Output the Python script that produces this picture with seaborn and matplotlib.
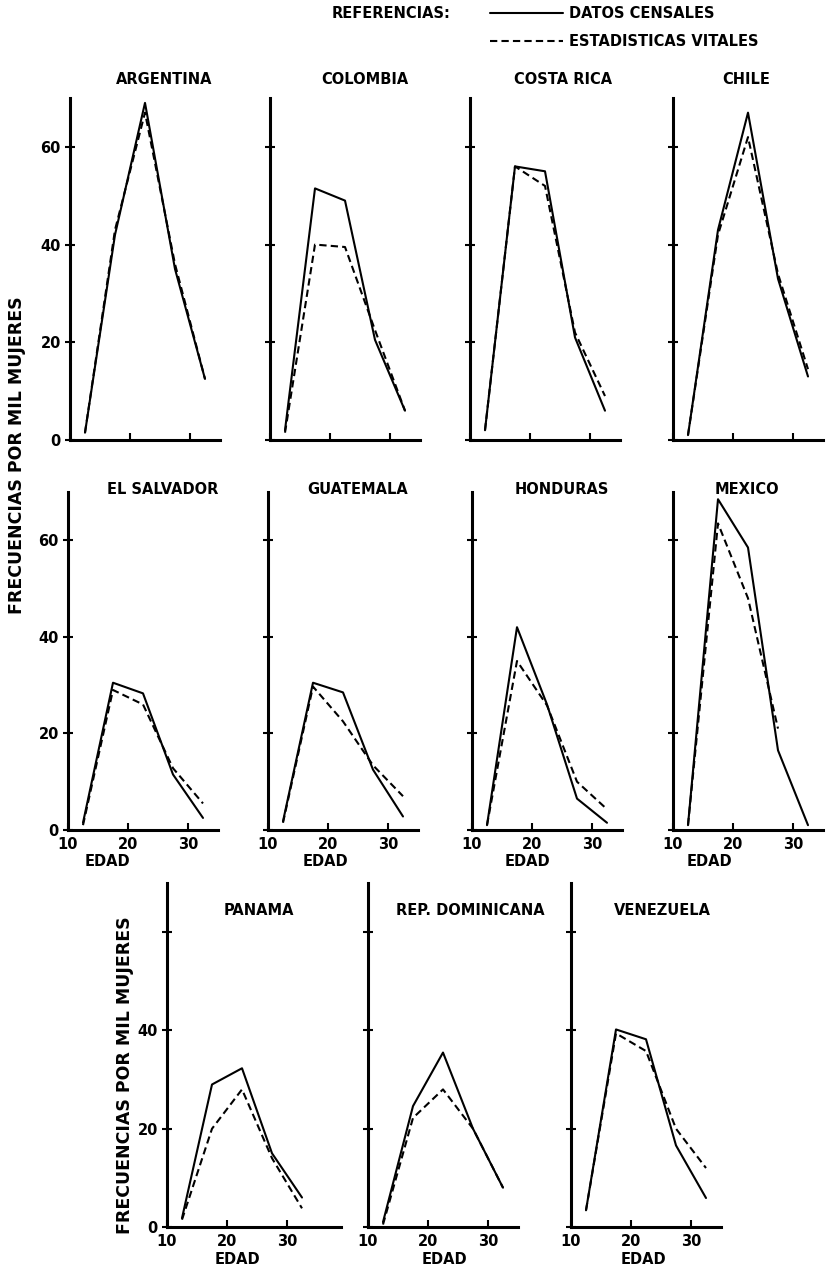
import numpy as np
import pandas as pd
import matplotlib
matplotlib.use("Agg")
import matplotlib.pyplot as plt
from matplotlib.lines import Line2D
import seaborn as sns

# Tasas de fecundidad por edad (por mil mujeres)
paises = ["ARGENTINA", "COLOMBIA", "COSTA RICA", "CHILE",
          "EL SALVADOR", "GUATEMALA", "HONDURAS", "MEXICO",
          "PANAMA", "REP. DOMINICANA", "VENEZUELA"]
edades = [12.5, 17.5, 22.5, 27.5, 32.5]

datos_censales = [
    [1.5, 42, 69, 35, 12.5],
    [2, 51.5, 49, 20.5, 6],
    [2, 56, 55, 21, 6],
    [1, 43, 67, 33, 13],
    [1.5, 30.5, 28.3, 11.5, 2.5],
    [1.8, 30.5, 28.5, 12.5, 2.8],
    [1, 42, 26, 6.5, 1.5],
    [1, 68.5, 58.5, 16.5, 1],
    [1.8, 29, 32.3, 15, 6],
    [1, 24.6, 35.5, 20, 8],
    [3.4, 40.2, 38.2, 16.6, 5.9],
]
estadisticas_vitales = [
    [1.5, 43, 67, 36, 12.5],
    [1.5, 40, 39.5, 22.5, 6],
    [2, 56, 52, 22, 9],
    [1, 42, 62, 34, 14.5],
    [1, 29, 26, 12.8, 5.5],
    [1.5, 29.7, 22.5, 13.4, 7],
    [1, 35, 25.8, 10, 4.3],
    [1, 63.5, 48, 21, np.nan],
    [1.5, 20, 28, 14, 3.8],
    [0.5, 22.2, 28, 20, 8],
    [3.4, 39.4, 35.8, 20, 12],
]

fuentes = ["DATOS CENSALES", "ESTADISTICAS VITALES"]
y_ticks = [0, 20, 40, 60]
x_ticks = [10, 20, 30]

# long form table for seaborn
rows = []
for pais, cen, vit in zip(paises, datos_censales, estadisticas_vitales):
    for edad, c, v in zip(edades, cen, vit):
        rows.append({"pais": pais, "edad": edad, "fuente": fuentes[0], "tasa": c})
        rows.append({"pais": pais, "edad": edad, "fuente": fuentes[1], "tasa": v})
df = pd.DataFrame(rows).dropna()

sns.set_style("ticks")
plt.rcParams["font.family"] = ["DejaVu Sans"]
plt.rcParams["font.weight"] = "bold"
plt.rcParams["font.size"] = 10.5
for key in ["text.color", "axes.labelcolor", "xtick.color", "ytick.color"]:
    plt.rcParams[key] = "black"

W, H = 830, 1271
fig = plt.figure(figsize=(W / 100, H / 100), dpi=100)

# row: (top px, bottom px, title y in axes fraction)
row_box = {0: (98, 440, 1.053), 1: (492, 830, 1.006), 2: (883, 1227, 0.92)}

# pais: (row, left px, xmax, title x frac, EDAD position in years)
layout = {
    "ARGENTINA": (0, 70, 35, 0.63, None),
    "COLOMBIA": (0, 270, 35, 0.63, None),
    "COSTA RICA": (0, 470, 35, 0.62, None),
    "CHILE": (0, 673, 35, 0.49, None),
    "EL SALVADOR": (1, 68, 35, 0.63, 16.5),
    "GUATEMALA": (1, 268, 35, 0.6, 19.5),
    "HONDURAS": (1, 472, 35, 0.6, 19.3),
    "MEXICO": (1, 673, 35, 0.49, 16),
    "PANAMA": (2, 167, 39, 0.53, 21.8),
    "REP. DOMINICANA": (2, 368, 35, 0.68, 22.7),
    "VENEZUELA": (2, 571, 35, 0.61, 22),
}
first_in_row = ["ARGENTINA", "EL SALVADOR", "PANAMA"]
estilos = {fuentes[0]: "", fuentes[1]: (3.5, 2)}

for pais in paises:
    row, left, xmax, tx, edad_x = layout[pais]
    top, bottom, ty = row_box[row]
    width = (xmax - 10) * 6.0
    ax = fig.add_axes([left / W, 1 - bottom / H, width / W, (bottom - top) / H])

    sub = df[df["pais"] == pais]
    sns.lineplot(data=sub, x="edad", y="tasa", style="fuente", style_order=fuentes,
                 dashes=estilos, color="black", linewidth=1.5, errorbar=None,
                 legend=False, ax=ax)

    ax.set_xlim(10, xmax)
    ax.set_ylim(0, 70)
    ax.set_xticks(x_ticks)
    ax.set_yticks(y_ticks)
    sns.despine(ax=ax)
    for side in ["left", "bottom"]:
        ax.spines[side].set_linewidth(2.2)
        ax.spines[side].set_color("black")
    ax.tick_params(axis="y", direction="inout", length=7, width=1.5, pad=3, colors="black")
    ax.tick_params(axis="x", direction="in", length=5, width=1.5, pad=5, colors="black")

    if pais == "PANAMA":
        ax.set_yticklabels(["0", "20", "40", ""])
    elif pais in first_in_row:
        ax.set_yticklabels([str(t) for t in y_ticks])
    else:
        ax.set_yticklabels([])
    ax.set_ylabel("")

    if row == 0:
        ax.set_xticklabels([])
        ax.set_xlabel("")
    else:
        ax.set_xticklabels([str(t) for t in x_ticks])
        ax.set_xlabel("EDAD", fontweight="bold")
        ax.xaxis.set_label_coords(edad_x, -0.072, transform=ax.get_xaxis_transform())

    ax.text(tx, ty, pais, transform=ax.transAxes, ha="center", va="center")

# shared y labels
fig.text(17 / W, 1 - 455 / H, "FRECUENCIAS POR MIL MUJERES", rotation=90,
         ha="center", va="center", fontsize=12.5)
fig.text(125 / W, 1 - 1075 / H, "FRECUENCIAS POR MIL MUJERES", rotation=90,
         ha="center", va="center", fontsize=12.5)

# references at the top
fig.text(332 / W, 1 - 14 / H, "REFERENCIAS:", ha="left", va="center")
handles = [Line2D([], [], color="black", linewidth=1.5),
           Line2D([], [], color="black", linewidth=1.5, linestyle=(0, (3.5, 2)))]
fig.legend(handles, fuentes, loc="upper left", bbox_to_anchor=(490 / W, 1 - 6 / H),
           frameon=False, handlelength=5, handletextpad=0.4, labelspacing=0.9,
           borderpad=0, borderaxespad=0, fontsize=10.5)

fig.savefig("out.png", dpi=100, facecolor="white")
